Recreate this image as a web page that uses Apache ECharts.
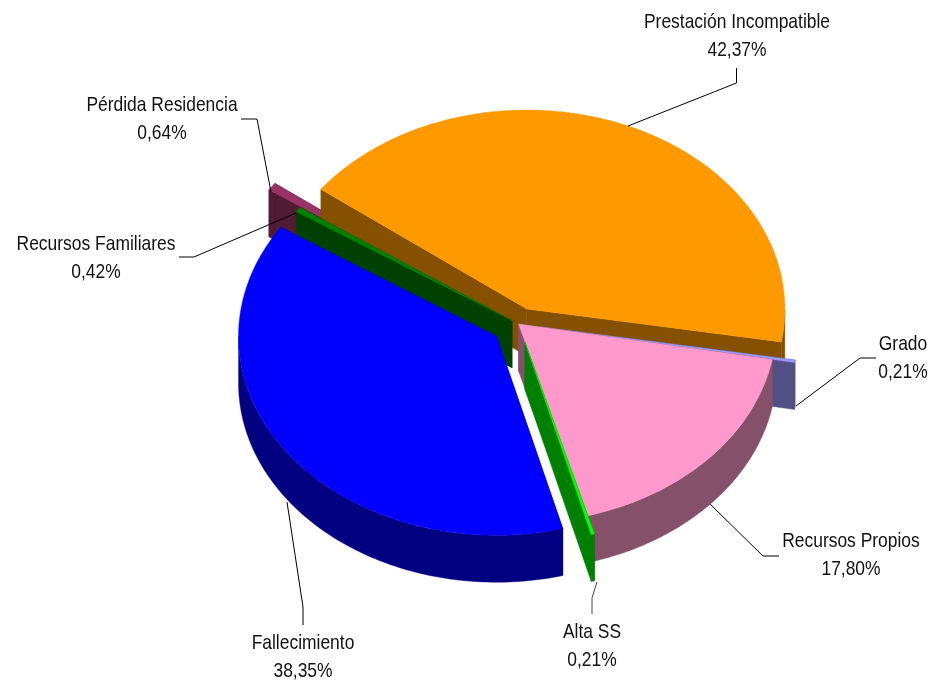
<!DOCTYPE html>
<html>
<head>
<meta charset="utf-8">
<title>Pie</title>
<style>
html, body { margin: 0; padding: 0; background: #fff; }
#main { width: 931px; height: 683px; }
</style>
<script src="https://cdn.jsdelivr.net/npm/echarts@6/dist/echarts.min.js"></script>
</head>
<body>
<div id="main"></div>
<script>
var names = ['Prestación Incompatible', 'Grado', 'Recursos Propios', 'Alta SS', 'Fallecimiento', 'Recursos Familiares', 'Pérdida Residencia'];
var values = [42.37, 0.21, 17.80, 0.21, 38.35, 0.42, 0.64];
var topColors = ['#FF9900', '#9999FF', '#FF99CC', '#00FF00', '#0000FF', '#008000', '#993366'];
var sideColors = ['#855000', '#505085', '#855069', '#008000', '#000080', '#004000', '#501B35'];
// despiece de cada porcion, en fraccion del radio
var explode = [0.082, 0.087, 0, 0.095, 0.105, 0.03, 0.18];
// orden de pintado, de atras hacia delante
var drawOrder = [6, 0, 5, 1, 2, 3, 4];
// centro del bloque de texto de cada etiqueta
var labelPos = [[737, 36], [903, 358], [851, 555], [592, 646], [303, 657], [96, 258], [162, 119]];
// lineas guia, mismo orden que names
var leaders = [
	[[628, 126], [736.5, 83], [736.5, 68]],
	[[796, 406], [860, 358], [876, 358]],
	[[710, 504], [763, 556], [779, 556]],
	[[597, 582], [592, 598], [592, 614]],
	[[287, 502], [303, 607], [303, 625]],
	[[296, 213], [194, 257], [179, 257]],
	[[271, 192], [257, 119], [241, 119]]
];

var cx = 518.5, cy = 324, rx = 258, ry = 199, depth = 47;
var startAngle = -143;

function rad(a) {
	return a * Math.PI / 180;
}
function onEllipse(c, t, dy) {
	return [c[0] + rx * Math.cos(rad(t)), c[1] + ry * Math.sin(rad(t)) + (dy || 0)];
}
function arc(c, t0, t1, dy) {
	var pts = [];
	var n = Math.max(2, Math.ceil(Math.abs(t1 - t0)));
	for (var i = 0; i <= n; i++) {
		pts.push(onEllipse(c, t0 + (t1 - t0) * i / n, dy));
	}
	return pts;
}
function poly(points, color) {
	return { type: 'polygon', shape: { points: points }, style: { fill: color, stroke: color, lineWidth: 0.4 } };
}

// angulos acumulados
var total = 0;
for (var i = 0; i < values.length; i++) {
	total += values[i];
}
var slices = [];
var acc = startAngle;
for (var i = 0; i < values.length; i++) {
	var span = values[i] / total * 360;
	slices.push({ t0: acc, t1: acc + span });
	acc += span;
}

var renderSlice = function(params, api) {
	var idx = drawOrder[api.value(0)];
	var s = slices[idx];
	var mid = (s.t0 + s.t1) / 2;
	var c = [cx + explode[idx] * rx * Math.cos(rad(mid)), cy + explode[idx] * ry * Math.sin(rad(mid))];
	var children = [];
	var side = sideColors[idx];
	// caras radiales
	[s.t0, s.t1].forEach(function(t) {
		var p = onEllipse(c, t);
		children.push(poly([c, p, [p[0], p[1] + depth], [c[0], c[1] + depth]], side));
	});
	// pared exterior, solo la mitad delantera
	var a = Math.max(s.t0, 0), b = Math.min(s.t1, 180);
	if (b > a) {
		children.push(poly(arc(c, a, b, 0).concat(arc(c, b, a, depth)), side));
	}
	// cara superior
	children.push(poly([c].concat(arc(c, s.t0, s.t1, 0)), topColors[idx]));
	return { type: 'group', children: children };
};

var renderLabel = function(params, api) {
	var idx = api.value(0);
	var pct = values[idx].toFixed(2).replace('.', ',') + '%';
	return {
		type: 'group',
		children: [{
			type: 'polyline',
			shape: { points: leaders[idx] },
			style: { stroke: idx == 3 ? '#444' : '#000', lineWidth: 1, fill: null }
		}, {
			// no hay Arial Narrow: se estrecha la Liberation Sans
			type: 'text',
			x: labelPos[idx][0],
			y: labelPos[idx][1],
			scaleX: 0.83,
			style: {
				x: 0,
				y: 0,
				text: names[idx] + '\n' + pct,
				fill: '#111',
				font: '21px "Liberation Sans", Arial, sans-serif',
				lineHeight: 28,
				align: 'center',
				verticalAlign: 'middle'
			}
		}]
	};
};

var myChart = echarts.init(document.getElementById('main'), null, { renderer: 'canvas' });
var option = {
	animation: false,
	backgroundColor: '#fff',
	xAxis: { show: false },
	yAxis: { show: false },
	series: [{
		type: 'custom',
		coordinateSystem: 'none',
		renderItem: renderSlice,
		silent: true,
		data: drawOrder.map(function(d, i) { return [i]; }),
		z: 2
	}, {
		type: 'custom',
		coordinateSystem: 'none',
		renderItem: renderLabel,
		silent: true,
		data: names.map(function(d, i) { return [i]; }),
		z: 3
	}]
};
myChart.setOption(option);
</script>
</body>
</html>
